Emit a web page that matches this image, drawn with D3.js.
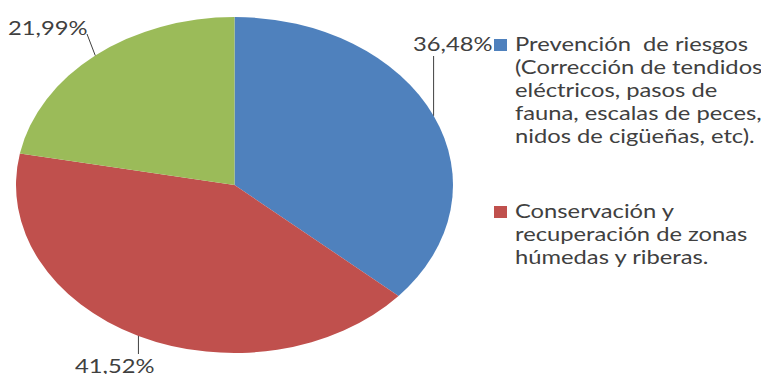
<!DOCTYPE html>
<html>
<head>
<meta charset="utf-8">
<script src="https://cdn.jsdelivr.net/npm/d3@7"></script>
<style>
  html, body { margin: 0; padding: 0; background: #fff; }
  svg { display: block; }
  text { font-family: Lato, "Open Sans", sans-serif; fill: #404040; white-space: pre; }
</style>
</head>
<body>
<svg id="chart" width="761" height="374"></svg>
<script>
// Reparto de la inversión por tipo de actuación
const categories = [
  "Prevención de riesgos",
  "Conservación y recuperación de zonas húmedas y riberas",
  null
];
const values = [36.48, 41.52, 21.99];
const valueLabels = ["36,48%", "41,52%", "21,99%"];
const colors = ["#4F81BD", "#C0504D", "#9BBB59"];
const legendLines = [
  ["Prevención  de riesgos", "(Corrección de tendidos", "eléctricos, pasos de", "fauna, escalas de peces,", "nidos de cigüeñas, etc)."],
  ["Conservación y", "recuperación de zonas", "húmedas y riberas."]
];

const svg = d3.select("#chart");

// Pie is drawn as a circle and stretched horizontally into an ellipse
const cx = 234.5, cy = 185, R = 168, stretch = 218.5 / 168;
const textStretch = 1.25, fontSize = 19;

const slices = values.map((v, i) => ({ value: v, color: colors[i], label: valueLabels[i], name: categories[i] }));
const pie = d3.pie().sort(null).value(d => d.value);
const arcs = pie(slices);
const arc = d3.arc().innerRadius(0).outerRadius(R);

const pieG = svg.append("g").attr("transform", `translate(${cx},${cy}) scale(${stretch},1)`);
pieG.selectAll("path").data(arcs).join("path")
  .attr("d", arc)
  .attr("fill", d => d.data.color);

// Point on the rim at the middle of a slice, in page coordinates
function rimPoint(d) {
  const a = (d.startAngle + d.endAngle) / 2;
  return [cx + R * Math.sin(a) * stretch, cy - R * Math.cos(a)];
}

// Leader line ends and label anchors for each slice
const labelLayout = [
  { lineEnd: p => [p[0], 56], text: [413, 51] },
  { lineEnd: p => [p[0], 354], text: [75, 373] },
  { lineEnd: p => [87, 34], text: [8, 35] }
];

arcs.forEach((d, i) => {
  const p = rimPoint(d);
  const lay = labelLayout[i];
  const e = lay.lineEnd(p);
  svg.append("line")
    .attr("x1", p[0]).attr("y1", p[1])
    .attr("x2", e[0]).attr("y2", e[1])
    .attr("stroke", "#404040").attr("stroke-width", 1);
  svg.append("text")
    .attr("transform", `translate(${lay.text[0]},${lay.text[1]}) scale(${textStretch},1)`)
    .attr("font-size", fontSize)
    .text(d.data.label);
});

// Legend
const legendX = 494, textX = 515, lineGap = 23;
const legendBases = [51, 218];
legendLines.forEach((lines, i) => {
  const base = legendBases[i];
  svg.append("rect")
    .attr("x", legendX).attr("y", base - 12)
    .attr("width", 13).attr("height", 12)
    .attr("fill", colors[i]);
  lines.forEach((ln, j) => {
    svg.append("text")
      .attr("transform", `translate(${textX},${base + j * lineGap}) scale(${textStretch},1)`)
      .attr("font-size", fontSize)
      .text(ln);
  });
});
</script>
</body>
</html>
